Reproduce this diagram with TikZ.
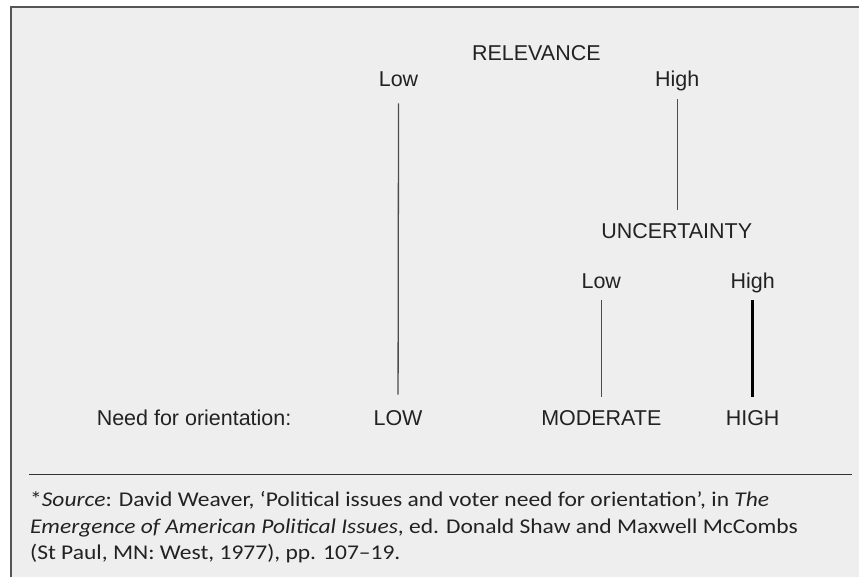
\documentclass[tikz,border=0pt]{standalone}
\usepackage{fontspec}
\setmainfont{Liberation Sans}
\newfontfamily\notefont[FakeStretch=1.12]{Carlito}
\definecolor{panel}{HTML}{EEEEEE}
\definecolor{ink}{HTML}{222222}
\definecolor{framec}{HTML}{555555}
\begin{document}
\begin{tikzpicture}[x=1pt,y=-1pt,
  lab/.style={anchor=base,inner sep=0pt,text height=15.5pt,text depth=4.5pt,text=ink,font=\fontsize{21.5}{26}\selectfont},
  noteline/.style={anchor=base west,inner sep=0pt,text=ink,font=\notefont\fontsize{21}{27}\selectfont},
  thinline/.style={draw=black!70,line width=1.3pt},
  thickline/.style={draw=black,line width=3pt}]
\fill[white] (0,0) rectangle (860,578);
\fill[panel] (11,7) rectangle (860,578);
\draw[framec,line width=2pt] (11,578) -- (11,7) -- (860,7);
% labels
\node[lab] (rel) at (537,60.7) {RELEVANCE};
\node[lab] (rlow) at (399,86.7) {Low};
\node[lab] (rhigh) at (678,86.7) {High};
\node[lab] (unc) at (677.5,239) {UNCERTAINTY};
\node[lab] (ulow) at (602,289) {Low};
\node[lab] (uhigh) at (753.5,289) {High};
\node[lab,anchor=base west] (need) at (96.7,425.5) {Need for orientation:};
\node[lab] (nlow) at (398.5,425.7) {LOW};
\node[lab] (nmod) at (602,425.7) {MODERATE};
\node[lab] (nhigh) at (753.5,425.7) {HIGH};
% connectors
\draw[thinline,shorten <=12pt,shorten >=15pt] (rlow.south) -- (nlow.north);
\draw[thinline,shorten <=8pt,shorten >=13.5pt] (rhigh.south) -- (unc.north -| rhigh.south);
\draw[thinline,shorten <=6.5pt,shorten >=13pt] (ulow.south) -- (nmod.north -| ulow.south);
\draw[thickline,shorten <=6.5pt,shorten >=13pt] (uhigh.south) -- (nhigh.north -| uhigh.south);
% rule
\coordinate (ruleL) at (29,475);
\coordinate (ruleR) at (853,475);
\draw[black!80,line width=1.3pt] (ruleL) -- (ruleR);
% footnote
\node[noteline] (note1) at (30,506.7) {*\textit{Source}: David Weaver, ‘Political issues and voter need for orientation’, in \textit{The}};
\node[noteline] (note2) at (30,533.7) {\textit{Emergence of American Political Issues}, ed. Donald Shaw and Maxwell McCombs};
\node[noteline] (note3) at (30,560.5) {(St Paul, MN: West, 1977), pp. 107–19.};
\end{tikzpicture}
\end{document}
